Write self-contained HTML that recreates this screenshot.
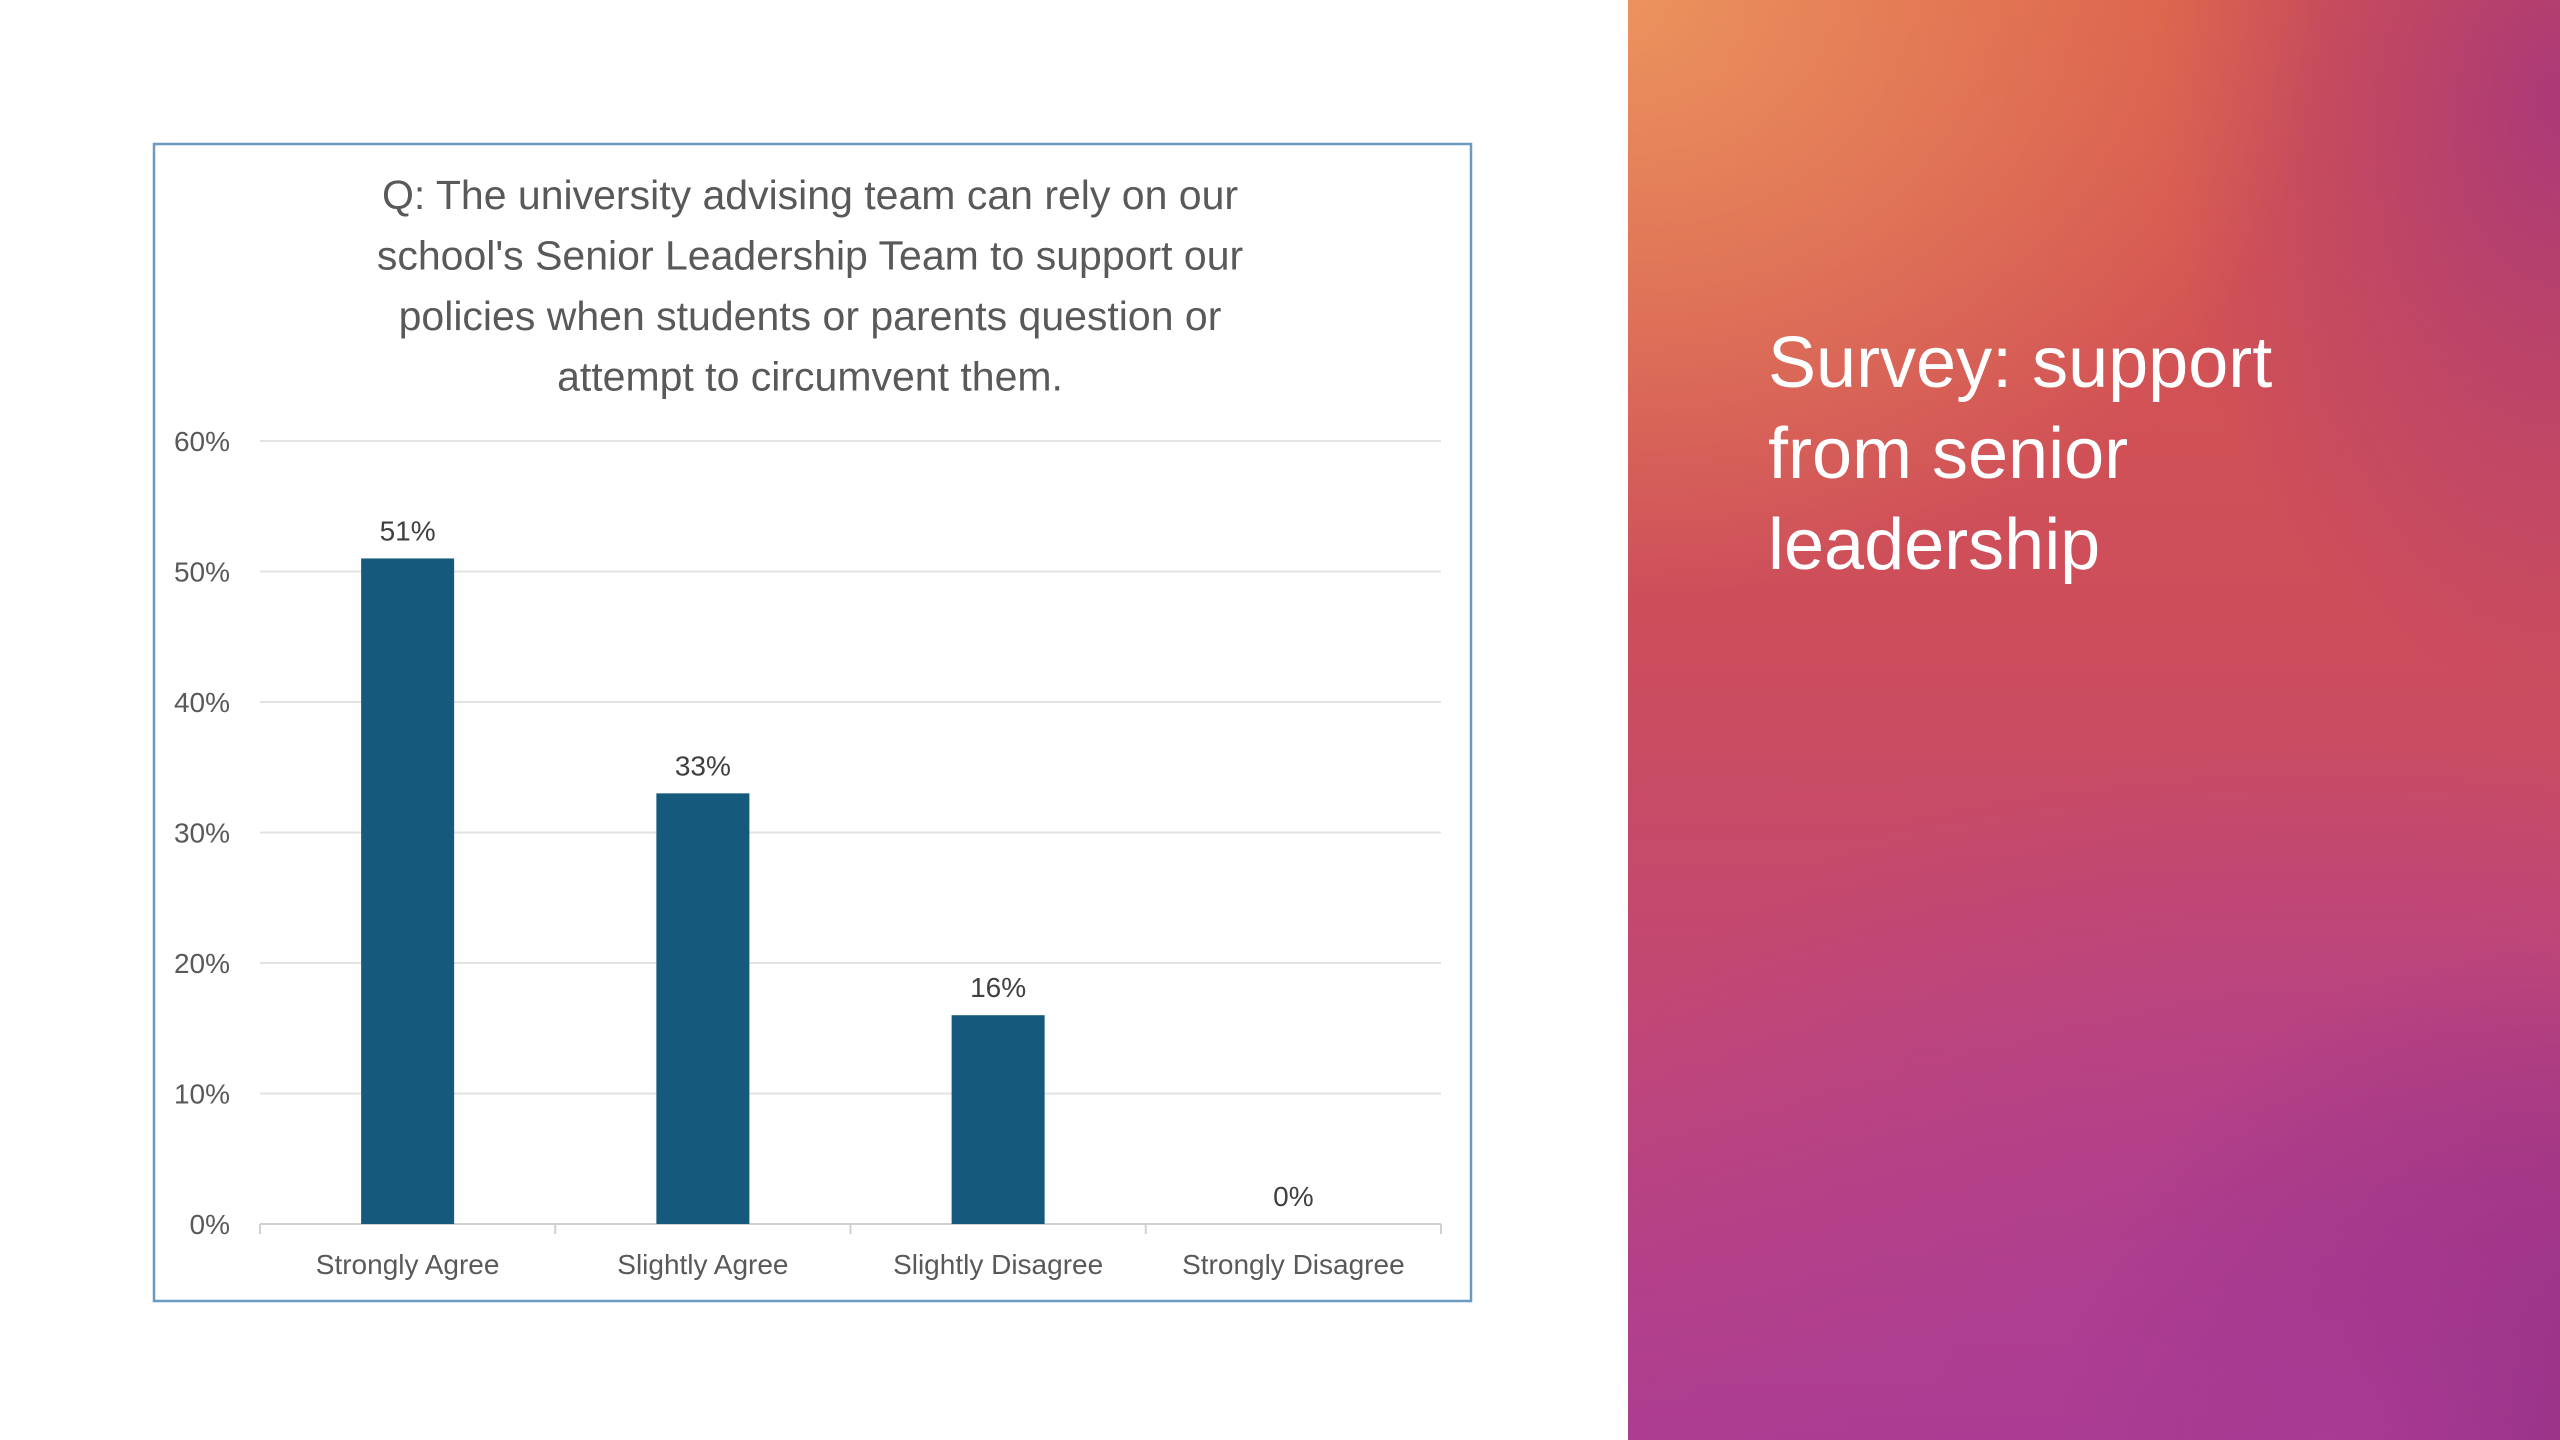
<!DOCTYPE html>
<html><head><meta charset="utf-8"><style>
html,body{margin:0;padding:0;width:2560px;height:1440px;overflow:hidden;background:#fff;font-family:"Liberation Sans",sans-serif}
#panel{position:absolute;left:1628px;top:0;width:932px;height:1440px;
background:
radial-gradient(ellipse 700px 600px at 0px 0px, rgba(236,150,95,0.95), rgba(236,150,95,0) 100%),
radial-gradient(ellipse 900px 700px at 700px 1440px, rgba(170,60,150,0.9), rgba(170,60,150,0) 100%),
radial-gradient(ellipse 500px 500px at 932px 1440px, rgba(120,30,110,0.9), rgba(120,30,110,0) 100%),
radial-gradient(ellipse 400px 600px at 932px 100px, rgba(160,50,130,0.8), rgba(160,50,130,0) 100%),
linear-gradient(180deg,#d9584a 0%,#cc4d5c 45%,#bf4679 75%,#ad3d8f 100%)}
#ptitle{position:absolute;left:140px;top:318px;color:#fff;font-size:72px;line-height:91px;font-family:"Liberation Sans",sans-serif}
</style></head><body>
<svg id="chart" width="1628" height="1440" style="position:absolute;left:0;top:0"></svg>
<div id="panel"><div id="ptitle">Survey: support<br>from senior<br>leadership</div></div>
<script>
const categories=["Strongly Agree","Slightly Agree","Slightly Disagree","Strongly Disagree"];
const values=[51,33,16,0];
const valueLabels=["51%","33%","16%","0%"];
const ticks=[0,10,20,30,40,50,60];
const tickLabels=["0%","10%","20%","30%","40%","50%","60%"];
const titleLines=["Q: The university advising team can rely on our","school's Senior Leadership Team to support our","policies when students or parents question or","attempt to circumvent them."];
const svg=document.getElementById('chart');const NS='http://www.w3.org/2000/svg';
function mk(t,a,p){const e=document.createElementNS(NS,t);for(const k in a)e.setAttribute(k,a[k]);(p||svg).appendChild(e);return e;}
const x0=260,x1=1441,y0=1224,y1=441,ymax=60;
const y=v=>y0-(v/ymax)*(y0-y1);
const cw=(x1-x0)/categories.length;
const xc=i=>x0+cw*(i+0.5);
let b=mk('rect',{x:154,y:144,width:1317,height:1157,fill:'#fff',stroke:'#6a9ac0','stroke-width':2.5});

titleLines.forEach((l,i)=>{const t=mk('text',{x:810,y:209+i*60.5,'text-anchor':'middle','font-size':41,fill:'#595959'});t.textContent=l;
});
ticks.forEach((v,i)=>{const g=mk('line',{x1:x0,x2:x1,y1:y(v),y2:y(v),stroke:v===0?'#d0d0d0':'#e3e3e3','stroke-width':2});

const t=mk('text',{x:230,y:y(v)+10,'text-anchor':'end','font-size':28,fill:'#595959'});t.textContent=tickLabels[i];
});
for(let i=0;i<=categories.length;i++){const l=mk('line',{x1:x0+cw*i,x2:x0+cw*i,y1:y0,y2:y0+10,stroke:'#d0d0d0','stroke-width':2});
}
categories.forEach((c,i)=>{
const r=mk('rect',{x:xc(i)-46.5,y:y(values[i]),width:93,height:y0-y(values[i]),fill:'#155a7c'});

const v=mk('text',{x:xc(i),y:y(values[i])-18,'text-anchor':'middle','font-size':28,fill:'#404040'});v.textContent=valueLabels[i];

const t=mk('text',{x:xc(i),y:1274,'text-anchor':'middle','font-size':28,fill:'#595959'});t.textContent=c;
});
</script>
</body></html>
